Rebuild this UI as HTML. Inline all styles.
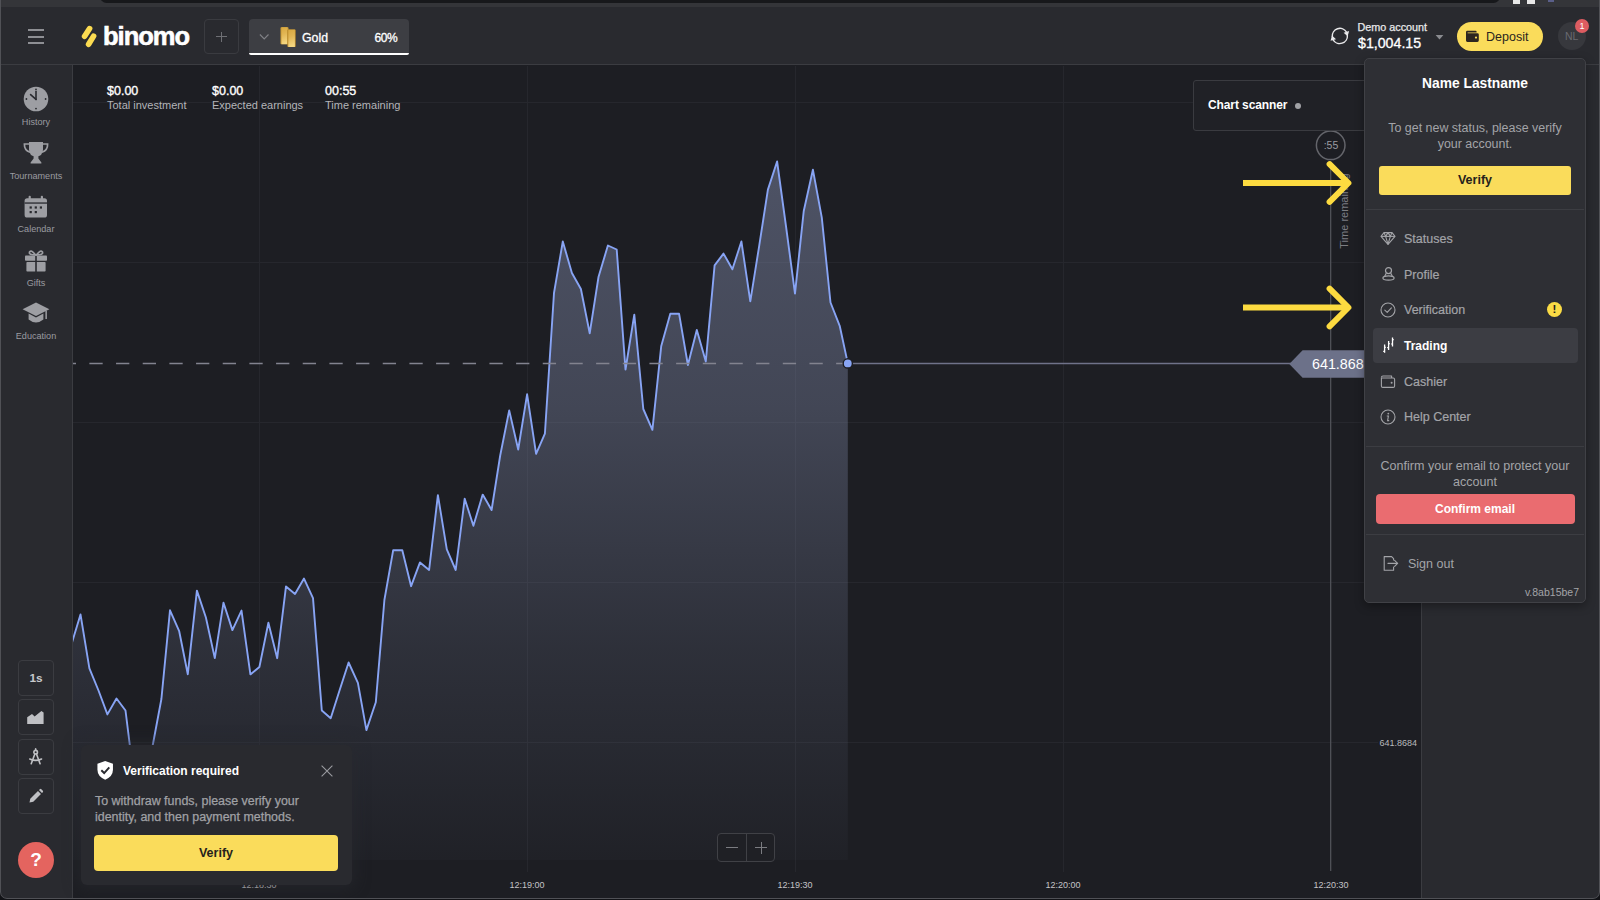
<!DOCTYPE html>
<html><head><meta charset="utf-8"><title>Binomo</title>
<style>
*{box-sizing:border-box;margin:0;padding:0}
html,body{width:1600px;height:900px;overflow:hidden;background:#121317}
body{font-family:"Liberation Sans",sans-serif;color:#fff;position:relative}
.abs{position:absolute}
#win{position:absolute;left:0;top:0;width:1600px;height:899px;background:#28292e;border-radius:0 0 7px 7px;overflow:hidden}
#winb{position:absolute;left:0;top:-5px;width:1600px;height:904px;border:1px solid #505156;border-radius:0 0 7px 7px;pointer-events:none}
#topstrip{position:absolute;left:0;top:0;width:1600px;height:7px;background:#343539}
#urlfrag{position:absolute;left:100px;top:-10px;width:1400px;height:13px;background:#17181b;border-radius:8px}
#header{position:absolute;left:0;top:7px;width:1600px;height:58px;background:#292a2f}
#hline{position:absolute;left:0;top:64px;width:1600px;height:1px;background:#3b3c41}
#sidebar{position:absolute;left:0;top:65px;width:72px;height:835px;background:#292a2f}
#sline{position:absolute;left:72px;top:65px;width:1px;height:835px;background:#3b3c41}
#chartbg{position:absolute;left:73px;top:65px;width:1348px;height:835px;background:#1d1e23}
#rpanel{position:absolute;left:1421px;top:65px;width:179px;height:835px;background:#292a2f;border-left:1px solid #3b3c41}
.sitem{position:absolute;left:0;width:72px;text-align:center;font-size:9.1px;color:#9a9ba0}
.tool{position:absolute;left:18px;width:36px;height:36px;border:1px solid #3b3c41;border-radius:4px}
.tl{position:absolute;top:879.6px;font-size:9px;color:#c4c4c6;width:60px;text-align:center;font-weight:normal}
.stat b{display:block;font-size:12.5px;font-weight:normal;color:#fff;line-height:14px;-webkit-text-stroke:0.35px #fff}
.stat span{display:block;font-size:11px;color:#b4b5b9;line-height:14px;margin-top:0.8px}
.stat{position:absolute;top:83.5px}
.mi{position:absolute;left:1404px;font-size:12.5px;color:#a3a4a8;line-height:16px;-webkit-text-stroke:0.2px #a3a4a8}
.ctr{position:absolute;left:1365px;width:220px;text-align:center}
</style></head><body>
<div id="win">
<div id="topstrip"><div id="urlfrag"></div>
<div class="abs" style="left:1513px;top:0;width:7px;height:3.5px;background:#e8e8e8"></div>
<div class="abs" style="left:1527px;top:0;width:7.5px;height:3.5px;background:#e8e8e8"></div>
<div class="abs" style="left:1548px;top:0;width:6px;height:1.5px;background:#5a5f8a"></div>
</div>
<div id="header"></div><div id="hline"></div>
<div id="sidebar"></div><div id="sline"></div>
<div id="chartbg"></div>
<div id="rpanel"></div>

<!-- CHART SVG -->
<svg class="abs" style="left:0;top:0" width="1600" height="900" viewBox="0 0 1600 900">
<defs>
<linearGradient id="ag" x1="0" y1="160" x2="0" y2="860" gradientUnits="userSpaceOnUse">
<stop offset="0" stop-color="#7f88a8" stop-opacity="0.50"/>
<stop offset="0.35" stop-color="#7f88a8" stop-opacity="0.38"/>
<stop offset="0.7" stop-color="#7f88a8" stop-opacity="0.17"/>
<stop offset="1" stop-color="#7f88a8" stop-opacity="0.03"/>
</linearGradient>
<clipPath id="cc"><rect x="73" y="66" width="1348" height="806"/></clipPath>
</defs>
<g stroke="#26272d" stroke-width="1" shape-rendering="crispEdges">
<line x1="73" x2="1421" y1="102.5" y2="102.5"/><line x1="73" x2="1421" y1="262.5" y2="262.5"/><line x1="73" x2="1421" y1="422.5" y2="422.5"/><line x1="73" x2="1421" y1="582.5" y2="582.5"/><line x1="73" x2="1378" y1="742.5" y2="742.5"/>
<line x1="259.5" x2="259.5" y1="66" y2="872"/><line x1="527.5" x2="527.5" y1="66" y2="872"/><line x1="795.5" x2="795.5" y1="66" y2="872"/><line x1="1063.5" x2="1063.5" y1="66" y2="872"/>
</g>
<g clip-path="url(#cc)">
<polygon points="71.4,644.5 80.5,614.4 89.4,668.4 98.5,690.5 107.4,714.4 116.5,698.5 125.5,710.5 134.4,782.0 143.4,795.0 152.4,747.0 161.4,699.0 170.0,610.3 179.2,631.2 187.8,674.2 196.9,590.6 205.9,617.5 214.8,658.1 223.5,602.7 232.4,630.1 241.5,610.6 250.4,674.4 259.4,667.0 268.4,622.7 277.2,658.2 286.0,586.4 295.0,594.0 304.0,578.6 313.0,598.1 321.8,710.5 330.7,718.2 339.6,690.3 348.6,662.5 357.9,682.8 366.4,730.1 375.8,702.3 384.4,600.0 393.2,550.1 402.3,550.2 411.1,586.2 420.0,562.4 429.1,570.0 437.9,495.2 446.8,549.3 455.7,570.0 464.7,498.7 473.4,525.8 482.7,494.6 491.6,510.0 500.2,455.5 509.2,410.4 518.2,449.5 527.1,394.3 536.1,453.8 544.9,433.7 554.0,293.0 562.8,241.5 571.9,273.0 580.9,289.0 589.7,333.3 598.5,277.0 607.9,245.5 616.7,249.5 625.5,369.5 634.3,314.6 643.3,409.0 652.4,429.8 661.2,346.3 670.3,313.8 679.1,313.8 687.9,365.0 696.8,330.0 705.8,361.5 714.6,265.3 723.5,253.6 732.4,269.3 741.4,241.5 750.3,301.3 759.2,245.8 767.9,189.6 777.1,161.5 786.1,227.0 795.0,293.6 803.7,211.3 812.9,169.7 821.8,217.7 830.5,302.5 839.7,325.8 847.8,363.4 847.8,860 71.4,860" fill="url(#ag)"/>
<polyline points="71.4,644.5 80.5,614.4 89.4,668.4 98.5,690.5 107.4,714.4 116.5,698.5 125.5,710.5 134.4,782.0 143.4,795.0 152.4,747.0 161.4,699.0 170.0,610.3 179.2,631.2 187.8,674.2 196.9,590.6 205.9,617.5 214.8,658.1 223.5,602.7 232.4,630.1 241.5,610.6 250.4,674.4 259.4,667.0 268.4,622.7 277.2,658.2 286.0,586.4 295.0,594.0 304.0,578.6 313.0,598.1 321.8,710.5 330.7,718.2 339.6,690.3 348.6,662.5 357.9,682.8 366.4,730.1 375.8,702.3 384.4,600.0 393.2,550.1 402.3,550.2 411.1,586.2 420.0,562.4 429.1,570.0 437.9,495.2 446.8,549.3 455.7,570.0 464.7,498.7 473.4,525.8 482.7,494.6 491.6,510.0 500.2,455.5 509.2,410.4 518.2,449.5 527.1,394.3 536.1,453.8 544.9,433.7 554.0,293.0 562.8,241.5 571.9,273.0 580.9,289.0 589.7,333.3 598.5,277.0 607.9,245.5 616.7,249.5 625.5,369.5 634.3,314.6 643.3,409.0 652.4,429.8 661.2,346.3 670.3,313.8 679.1,313.8 687.9,365.0 696.8,330.0 705.8,361.5 714.6,265.3 723.5,253.6 732.4,269.3 741.4,241.5 750.3,301.3 759.2,245.8 767.9,189.6 777.1,161.5 786.1,227.0 795.0,293.6 803.7,211.3 812.9,169.7 821.8,217.7 830.5,302.5 839.7,325.8 847.8,363.4" fill="none" stroke="#88a4f4" stroke-width="1.9" stroke-linejoin="round"/>
</g>
<line x1="73" x2="843" y1="363.5" y2="363.5" stroke="#82838f" stroke-width="1.5" stroke-dasharray="13.3,13.37" stroke-dashoffset="10.3"/>
<line x1="848" x2="1300" y1="363.5" y2="363.5" stroke="#6f7289" stroke-width="1.3"/>
<line x1="1330.7" x2="1330.7" y1="161" y2="871" stroke="#55565d" stroke-width="1.2"/>
<circle cx="847.8" cy="363.4" r="4.6" fill="#88a4f4" stroke="#1d1e23" stroke-width="1.4"/>
<polygon points="1289.3,364 1302.6,350.3 1370,350.3 1370,377.8 1302.6,377.8" fill="#6c7189"/>
<circle cx="1330.7" cy="145.3" r="14.3" fill="#1d1e23" stroke="#64656b" stroke-width="1.5"/>
</svg>

<div class="abs" style="left:1312px;top:355px;font-size:14.3px;color:#fff;line-height:18px">641.868</div>
<div class="abs" style="left:1316px;top:138.3px;width:30px;text-align:center;font-size:10.5px;color:#9a9ba1;line-height:14px">:55</div>
<div class="abs" style="left:1343.8px;top:210.5px;width:0;height:0"><div style="position:absolute;left:-60px;top:-7px;width:120px;height:14px;line-height:14px;font-size:11px;color:#7c7d83;text-align:center;transform:rotate(-90deg);white-space:nowrap">Time remaining</div></div>
<div class="abs" style="left:1377px;top:736.6px;font-size:9px;color:#b8b9bc;line-height:12px;width:40px;text-align:right">641.8684</div>

<div class="tl" style="left:229px">12:18:30</div>
<div class="tl" style="left:497px">12:19:00</div>
<div class="tl" style="left:765px">12:19:30</div>
<div class="tl" style="left:1033px">12:20:00</div>
<div class="tl" style="left:1301px">12:20:30</div>

<!-- stats -->
<div class="stat" style="left:107px"><b>$0.00</b><span>Total investment</span></div>
<div class="stat" style="left:212px"><b>$0.00</b><span>Expected earnings</span></div>
<div class="stat" style="left:325px"><b>00:55</b><span>Time remaining</span></div>

<!-- zoom buttons -->
<div class="abs" style="left:717px;top:833px;width:58px;height:29px;border:1px solid #404146;border-radius:4px;background:#1f2025"></div>
<div class="abs" style="left:746px;top:833px;width:1px;height:29px;background:#404146"></div>
<div class="abs" style="left:726px;top:847.2px;width:12px;height:1.1px;background:#7b7c81"></div>
<div class="abs" style="left:755.4px;top:847.2px;width:12px;height:1.1px;background:#7b7c81"></div>
<div class="abs" style="left:760.9px;top:841.8px;width:1.1px;height:12px;background:#7b7c81"></div>

<!-- HEADER CONTENT -->
<!-- hamburger -->
<div class="abs" style="left:27.8px;top:29.3px;width:16px;height:2px;background:#8e8f94"></div>
<div class="abs" style="left:27.8px;top:35.5px;width:16px;height:2px;background:#8e8f94"></div>
<div class="abs" style="left:27.8px;top:42px;width:16px;height:2px;background:#8e8f94"></div>
<!-- logo -->
<svg class="abs" style="left:80px;top:24px" width="20" height="26" viewBox="0 0 20 26">
<g stroke="#fbdb51" stroke-width="5.6" stroke-linecap="round"><line x1="4.6" y1="12.3" x2="9.6" y2="4.6"/><line x1="8.6" y1="20.3" x2="13.6" y2="12.1"/></g></svg>
<div class="abs" id="logot" style="left:103px;top:20px;font-size:25.5px;font-weight:bold;color:#fff;line-height:32px;letter-spacing:-1.0px;-webkit-text-stroke:0.6px #fff">binomo</div>
<!-- plus -->
<div class="abs" style="left:204px;top:19px;width:35px;height:35px;border:1px solid #3a3b40;border-radius:4px"></div>
<div class="abs" style="left:216px;top:36.2px;width:10.5px;height:1px;background:#6e6f74"></div>
<div class="abs" style="left:220.8px;top:31.5px;width:1px;height:10.5px;background:#6e6f74"></div>
<!-- gold tab -->
<div class="abs" style="left:249px;top:19px;width:160px;height:36px;background:#3d3e43;border-radius:4px"></div><div class="abs" style="left:249px;top:52.8px;width:160px;height:2.2px;background:#fff;border-radius:0 0 3px 3px"></div>
<svg class="abs" style="left:258px;top:32px" width="12" height="10" viewBox="0 0 12 10"><path d="M1.9 2.5L6.2 7L10.5 2.5" fill="none" stroke="#808186" stroke-width="1.1"/></svg>
<svg class="abs" style="left:279px;top:26px" width="19" height="22" viewBox="0 0 19 22">
<defs><linearGradient id="gg" x1="0" y1="0" x2="0.15" y2="1"><stop offset="0" stop-color="#d8a840"/><stop offset="0.45" stop-color="#e2b654"/><stop offset="1" stop-color="#f4d680"/></linearGradient></defs>
<rect x="1.5" y="1.2" width="8" height="17" rx="0.8" fill="#c99a36"/><rect x="2.5" y="1.2" width="6" height="17" fill="url(#gg)"/>
<rect x="8.3" y="3.6" width="8.4" height="17.4" rx="0.8" fill="#b98a2c"/><rect x="9.3" y="3.6" width="6.6" height="17.4" fill="url(#gg)"/></svg>
<div class="abs" style="left:302px;top:30px;font-size:12.3px;color:#fff;line-height:16px;-webkit-text-stroke:0.3px #fff">Gold</div>
<div class="abs" style="left:374.5px;top:30px;font-size:12px;letter-spacing:-0.4px;color:#fff;line-height:16px;-webkit-text-stroke:0.3px #fff">60%</div>
<!-- refresh -->
<svg class="abs" style="left:1328.2px;top:23.6px" width="23" height="23" viewBox="0 0 21 21"><g fill="none" stroke="#e9e9eb" stroke-width="1.3" stroke-linecap="round">
<path d="M3.9 11.6A7 7 0 0 1 16.9 7.4"/><path d="M17.7 10.2A7 7 0 0 1 4.7 14.4"/></g>
<path d="M14.3 7.9L19.3 6.4L17.9 11.2Z" fill="#e9e9eb"/><path d="M7.3 13.9L2.3 15.4L3.7 10.6Z" fill="#e9e9eb"/></svg>
<div class="abs" style="left:1357.5px;top:20.3px;font-size:10.8px;color:#e8e8ea;line-height:14px;-webkit-text-stroke:0.25px #e8e8ea">Demo account</div>
<div class="abs" style="left:1358px;top:34.3px;font-size:14.2px;color:#fff;line-height:18px;-webkit-text-stroke:0.3px #fff">$1,004.15</div>
<svg class="abs" style="left:1433.5px;top:33.6px" width="11" height="7" viewBox="0 0 11 7"><path d="M1.6 1H9.4L5.5 5.5Z" fill="#8a8b90"/></svg>
<!-- deposit -->
<div class="abs" style="left:1457px;top:22px;width:86px;height:29px;border-radius:15px;background:#fadc5b"></div>
<svg class="abs" style="left:1465px;top:30px" width="15" height="13" viewBox="0 0 15 13"><path d="M1 2.2Q1 0.8 2.4 0.8H10.6Q11.6 0.8 11.6 1.8V2.6H2.6V3.2H12.4Q13.8 3.2 13.8 4.6V10.6Q13.8 12 12.4 12H2.4Q1 12 1 10.6Z" fill="#2c2620"/><circle cx="11" cy="7.6" r="1.1" fill="#fadc5b"/></svg>
<div class="abs" style="left:1486px;top:29px;font-size:12.5px;color:#2a2520;line-height:16px">Deposit</div>
<!-- avatar -->
<div class="abs" style="left:1557.6px;top:22.4px;width:28px;height:28px;border-radius:14px;background:#37383d;text-align:center;font-size:10.5px;line-height:28px;color:#696a70">NL</div>
<div class="abs" style="left:1575px;top:18.9px;width:14px;height:14px;border-radius:7px;background:#dd5c61;text-align:center;font-size:9px;line-height:14px;color:#fff">1</div>

<!-- SIDEBAR CONTENT -->
<!-- History -->
<svg class="abs" style="left:23px;top:86px" width="26" height="26" viewBox="0 0 26 26"><circle cx="13" cy="13" r="12.3" fill="#9d9ea3"/>
<g stroke="#292a2f" stroke-width="1.6" stroke-linecap="round"><line x1="13" y1="13.4" x2="13" y2="5.6"/><line x1="13" y1="13.4" x2="7.6" y2="8.6"/></g>
<g fill="#292a2f"><circle cx="13" cy="3.4" r="0.9"/><circle cx="13" cy="22.6" r="0.9"/><circle cx="3.4" cy="13" r="0.9"/><circle cx="22.6" cy="13" r="0.9"/></g></svg>
<div class="sitem" style="top:117px">History</div>
<!-- Tournaments -->
<svg class="abs" style="left:22px;top:140px" width="28" height="26" viewBox="0 0 28 26"><g fill="#9d9ea3">
<path d="M7 2H21V9.5Q21 16 14 16.6Q7 16 7 9.5Z"/><path d="M11.6 16H16.4V18.6L19.4 22.4Q19.8 23.6 18.6 23.6H9.4Q8.2 23.6 8.6 22.4L11.6 18.6Z"/></g>
<g fill="none" stroke="#9d9ea3" stroke-width="1.7"><path d="M7 4H2.4Q2.2 10.4 8 12.2"/><path d="M21 4H25.6Q25.8 10.4 20 12.2"/></g></svg>
<div class="sitem" style="top:171px">Tournaments</div>
<!-- Calendar -->
<svg class="abs" style="left:23px;top:195px" width="26" height="24" viewBox="0 0 26 24"><g fill="#9d9ea3"><rect x="1.6" y="3.2" width="22.4" height="19.4" rx="2.6"/><rect x="5.6" y="0.8" width="2.2" height="4" rx="1"/><rect x="17.8" y="0.8" width="2.2" height="4" rx="1"/></g>
<rect x="1.6" y="7.4" width="22.4" height="1.3" fill="#292a2f"/>
<g fill="#292a2f"><rect x="6.6" y="11.4" width="2.2" height="2.2"/><rect x="11.7" y="11.4" width="2.2" height="2.2"/><rect x="16.8" y="11.4" width="2.2" height="2.2"/><rect x="6.6" y="16" width="2.2" height="2.2"/><rect x="11.7" y="16" width="2.2" height="2.2"/></g></svg>
<div class="sitem" style="top:224px">Calendar</div>
<!-- Gifts -->
<svg class="abs" style="left:23px;top:248px" width="26" height="26" viewBox="0 0 26 26"><g fill="#9d9ea3"><rect x="2" y="7.4" width="22" height="5.4" rx="0.8"/><rect x="3.4" y="14" width="19.2" height="9.6" rx="0.8"/></g>
<rect x="12.2" y="7" width="1.6" height="17" fill="#292a2f"/>
<g fill="none" stroke="#9d9ea3" stroke-width="1.7"><path d="M12.6 7Q8 1 6.4 4.2Q5.6 7 12.6 7Z"/><path d="M13.4 7Q18 1 19.6 4.2Q20.4 7 13.4 7Z"/></g></svg>
<div class="sitem" style="top:277.8px">Gifts</div>
<!-- Education -->
<svg class="abs" style="left:21px;top:300px" width="30" height="26" viewBox="0 0 30 26"><g fill="#9d9ea3"><path d="M15 2.4L28.4 9.2L15 16L1.6 9.2Z"/><path d="M7.6 13.6L15 17.4L22.4 13.6V19.4Q15 25.4 7.6 19.4Z"/><rect x="24.4" y="10.6" width="1.5" height="8.4"/></g></svg>
<div class="sitem" style="top:331.2px">Education</div>
<!-- tools -->
<div class="tool" style="top:659.8px;text-align:center;line-height:35px;font-size:11.8px;font-weight:bold;color:#c8c9cc">1s</div>
<div class="tool" style="top:699px"></div>
<svg class="abs" style="left:26px;top:709.4px" width="19" height="17" viewBox="0 0 19 17"><path d="M1.2 15V8.2L6 5L8.6 7.4L15.4 2L17.6 3.6V15Z" fill="#bfc0c4"/></svg>
<div class="tool" style="top:738.5px"></div>
<svg class="abs" style="left:28.4px;top:747.6px" width="15.3" height="18" viewBox="0 0 17 20"><g fill="none" stroke="#bfc0c4" stroke-width="1.8" stroke-linecap="round"><circle cx="8.5" cy="4.6" r="2"/><path d="M7.6 6.6L3.6 17.4"/><path d="M9.4 6.6L13.4 17.4"/><path d="M2 12.2Q8.5 15.4 15 12.2"/><path d="M8.5 1V2.4"/></g></svg>
<div class="tool" style="top:777.8px"></div>
<svg class="abs" style="left:27.6px;top:788px" width="16" height="16" viewBox="0 0 17 17"><path d="M1.6 15.4L2.4 11.4L10.6 3.2L13.8 6.4L5.6 14.6Z M11.6 2.2L12.6 1.2Q13.4 0.6 14.2 1.2L15.8 2.8Q16.4 3.6 15.8 4.4L14.8 5.4Z" fill="#bfc0c4"/></svg>
<!-- help -->
<div class="abs" style="left:18px;top:842px;width:36px;height:36px;border-radius:18px;background:#e4645f;text-align:center;font-size:19px;font-weight:bold;line-height:36px;color:#fff">?</div>

<!-- CHART SCANNER -->
<div class="abs" style="left:1193px;top:80px;width:180px;height:51px;border:1px solid #3a3b40;border-radius:3px;background:#202126"></div>
<div class="abs" style="left:1208px;top:97px;font-size:12px;letter-spacing:-0.1px;font-weight:bold;color:#fff;line-height:16px">Chart scanner</div>
<div class="abs" style="left:1295px;top:102.5px;width:6px;height:6px;border-radius:3px;background:#a0a1a5"></div>
<!-- DROPDOWN -->
<div class="abs" style="left:1364px;top:58px;width:222px;height:545px;background:#2e2f34;border:1px solid #404146;border-radius:5px;box-shadow:0 3px 10px rgba(0,0,0,0.35)"></div>
<div class="ctr" style="top:75px;font-size:13.8px;font-weight:bold;color:#fff;line-height:18px">Name Lastname</div>
<div class="ctr" style="top:119.7px;font-size:12.45px;color:#a3a4a8;line-height:16.3px">To get new status, please verify<br>your account.</div>
<div class="abs" style="left:1379px;top:166px;width:192px;height:29px;border-radius:3px;background:#fadc5b;text-align:center;font-size:12.5px;font-weight:bold;line-height:29px;color:#25221c">Verify</div>
<div class="abs" style="left:1366px;top:209px;width:218px;height:1px;background:#3c3d42"></div>
<div class="abs" style="left:1373px;top:328px;width:205px;height:35px;border-radius:4px;background:#3c3d43"></div>
<div class="mi" style="top:231px">Statuses</div>
<div class="mi" style="top:266.6px">Profile</div>
<div class="mi" style="top:302.3px">Verification</div>
<div class="mi" style="top:338px;color:#fff;font-weight:bold;font-size:12px;-webkit-text-stroke:0">Trading</div>
<div class="mi" style="top:373.6px">Cashier</div>
<div class="mi" style="top:409.3px">Help Center</div>
<!-- icons -->
<svg class="abs" style="left:1380px;top:231px" width="16" height="15" viewBox="0 0 16 15"><g fill="none" stroke="#a3a4a8" stroke-width="1.1" stroke-linejoin="round"><path d="M4 1.6H12L15 5.4L8 13.4L1 5.4Z"/><path d="M1 5.4H15"/><path d="M5.6 5.4L8 13.2L10.4 5.4"/><path d="M4 1.6L5.6 5.4L8 1.6L10.4 5.4L12 1.6"/></g></svg>
<svg class="abs" style="left:1381px;top:266px" width="15" height="16" viewBox="0 0 15 16"><g fill="none" stroke="#a3a4a8" stroke-width="1.2"><circle cx="7.5" cy="4.6" r="3"/><path d="M5.2 7.2L3.6 10.4"/><path d="M9.8 7.2L11.4 10.4"/><ellipse cx="7.5" cy="12" rx="5.6" ry="2.2"/></g></svg>
<svg class="abs" style="left:1380px;top:302px" width="16" height="16" viewBox="0 0 16 16"><g fill="none" stroke="#a3a4a8" stroke-width="1.1"><circle cx="8" cy="8" r="7"/><path d="M4.8 8.2L7.2 10.4L11.4 5.8" stroke-linecap="round" stroke-linejoin="round"/></g></svg>
<svg class="abs" style="left:1381px;top:337px" width="14" height="17" viewBox="0 0 14 17"><g stroke="#fff" stroke-width="1.3" fill="none"><path d="M3.6 7.6V15.8M7.6 4V13M11.5 0.6V9.4"/><path d="M2.2 14.4H3.6M3.6 10.2H5M6.2 10.6H7.6M7.6 6.8H9M10.1 7H11.5M11.5 2.8H12.9" stroke-width="1.1"/></g></svg>
<svg class="abs" style="left:1380px;top:374px" width="16" height="15" viewBox="0 0 16 15"><g fill="none" stroke="#a3a4a8" stroke-width="1.1" stroke-linejoin="round"><path d="M1.4 3.4V12Q1.4 13.4 2.8 13.4H13.2Q14.6 13.4 14.6 12V5.4Q14.6 4 13.2 4H1.4"/><path d="M1.4 3.6Q1.4 2 3 2H11.6V4"/></g><circle cx="11.6" cy="8.8" r="1" fill="#a3a4a8"/></svg>
<svg class="abs" style="left:1380px;top:409px" width="16" height="16" viewBox="0 0 16 16"><circle cx="8" cy="8" r="7" fill="none" stroke="#a3a4a8" stroke-width="1.1"/><circle cx="8.3" cy="4.6" r="0.9" fill="#a3a4a8"/><path d="M6.8 7H8.4L7.6 11.6H9.2" fill="none" stroke="#a3a4a8" stroke-width="1.1"/></svg>
<div class="abs" style="left:1546.8px;top:302.2px;width:15px;height:15px;border-radius:7.5px;background:#fbdc45;text-align:center;font-size:11.5px;font-weight:bold;line-height:15.5px;color:#25221c">!</div>
<div class="abs" style="left:1366px;top:446px;width:218px;height:1px;background:#3c3d42"></div>
<div class="ctr" style="top:458px;font-size:12.55px;color:#a3a4a8;line-height:16px">Confirm your email to protect your<br>account</div>
<div class="abs" style="left:1375.5px;top:494px;width:199px;height:30px;border-radius:4px;background:#ea6c70;text-align:center;font-size:12px;font-weight:bold;line-height:30px;color:#fff">Confirm email</div>
<div class="abs" style="left:1366px;top:534px;width:218px;height:1px;background:#3c3d42"></div>
<svg class="abs" style="left:1382px;top:555px" width="17" height="17" viewBox="0 0 17 17"><g fill="none" stroke="#a3a4a8" stroke-width="1.1" stroke-linejoin="round" stroke-linecap="round"><path d="M11.6 5V3.6L9.6 1.6H2.2V15.2H11.6V12"/><path d="M6 8.4H15.6"/><path d="M12.6 5.4L15.6 8.4L12.6 11.4"/></g></svg>
<div class="abs" style="left:1408px;top:556px;font-size:12.5px;color:#a3a4a8;line-height:16px">Sign out</div>
<div class="abs" style="left:1480px;top:585px;width:99px;text-align:right;font-size:10.5px;color:#a3a4a8;line-height:14px">v.8ab15be7</div>

<!-- VERIFICATION TOAST -->
<div class="abs" style="left:81px;top:744.6px;width:271px;height:140px;background:#292a2f;border-radius:6px;box-shadow:0 0 14px 4px rgba(40,41,48,0.55)"></div>
<svg class="abs" style="left:96.3px;top:760px" width="18.4" height="20.8" viewBox="0 0 18 20"><path d="M9 0.8L16.6 3.6V9.4Q16.6 15.8 9 19.2Q1.4 15.8 1.4 9.4V3.6Z" fill="#fff"/><path d="M5.2 9.8L8 12.6L13 7" fill="none" stroke="#292a2f" stroke-width="1.9"/></svg>
<div class="abs" style="left:123px;top:762.8px;font-size:12px;font-weight:bold;color:#fff;line-height:16px">Verification required</div>
<svg class="abs" style="left:320px;top:764px" width="14" height="14" viewBox="0 0 14 14"><path d="M1.6 1.6L12.4 12.4M12.4 1.6L1.6 12.4" stroke="#9a9ba0" stroke-width="1.1"/></svg>
<div class="abs" style="left:95px;top:792.6px;font-size:12.45px;color:#a0a1a5;line-height:16px;-webkit-text-stroke:0.25px #a0a1a5">To withdraw funds, please verify your<br>identity, and then payment methods.</div>
<div class="abs" style="left:94px;top:834.5px;width:244px;height:36.5px;border-radius:4px;background:#fadc5b;text-align:center;font-size:12.5px;font-weight:bold;line-height:36.5px;color:#25221c">Verify</div>

<svg class="abs" style="left:0;top:0;pointer-events:none" width="1600" height="900" viewBox="0 0 1600 900">
<g fill="none" stroke="#fddb40" stroke-width="6" stroke-linejoin="round">
<path d="M1243 183H1347"/><path d="M1329.6 164.2L1348.4 183L1329.6 201.8" stroke-linecap="round"/>
<path d="M1243 307.5H1347"/><path d="M1329.6 288.7L1348.4 307.5L1329.6 326.3" stroke-linecap="round"/>
</g></svg>
<div id="winb"></div>
</div>
</body></html>
